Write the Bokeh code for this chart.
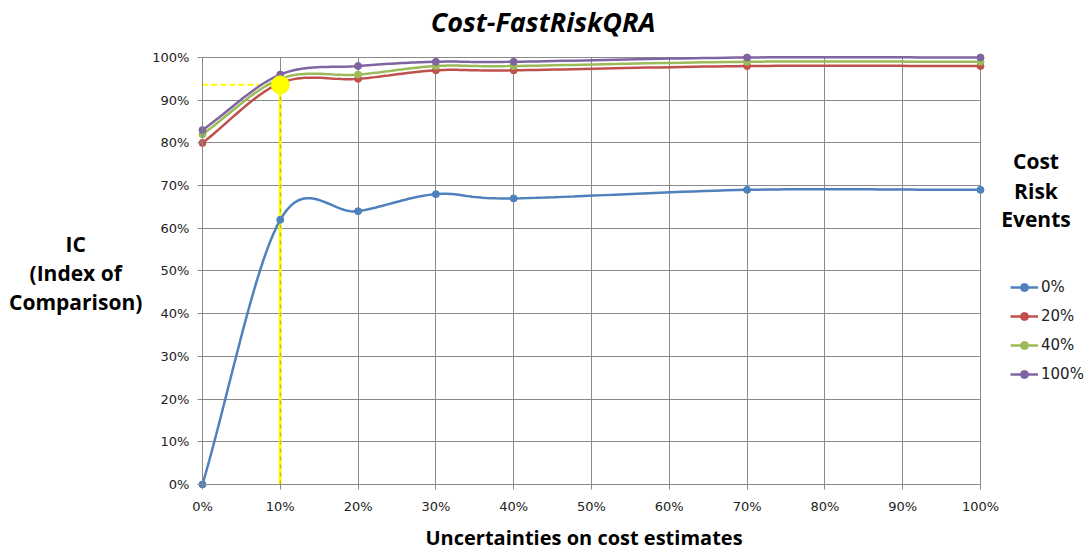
import numpy as np
from bokeh.plotting import figure
from bokeh.models import (Range1d, FixedTicker, PrintfTickFormatter, Label,
                          Legend, LegendItem)
from bokeh.embed import file_html
from bokeh.resources import INLINE

# Uncertainty on cost estimates (%) and Index of Comparison (%) per series
x_pct = [0, 10, 20, 30, 40, 70, 100]
ic_0 = [0, 62, 64, 68, 67, 69, 69]
ic_20 = [80, 94, 95, 97, 97, 98, 98]
ic_40 = [82, 95, 96, 98, 98, 99, 99]
ic_100 = [83, 96, 98, 99, 99, 100, 100]
series_names = ["0%", "20%", "40%", "100%"]
series_values = [ic_0, ic_20, ic_40, ic_100]
colors = ["#4F81BD", "#C0504D", "#9BBB59", "#8064A2"]
tick_values = list(range(0, 101, 10))

# highlighted reading
highlight_x = 10
highlight_ic = 93.6


def smooth(xs, ys, n=24):
    """Cubic Bezier smoothing through the points (Catmull-Rom tangents,
    chord tangents at both ends)."""
    P = np.column_stack([xs, ys]).astype(float)
    m = len(P)
    T = np.zeros_like(P)
    T[1:-1] = (P[2:] - P[:-2]) / 2.0
    T[0] = P[1] - P[0]
    T[-1] = P[-1] - P[-2]
    out = [P[0]]
    t = np.linspace(0, 1, n)[1:, None]
    for i in range(m - 1):
        p1, p2 = P[i], P[i + 1]
        c1 = p1 + T[i] / 3.0
        c2 = p2 - T[i + 1] / 3.0
        seg = ((1 - t) ** 3) * p1 + 3 * ((1 - t) ** 2) * t * c1 \
            + 3 * (1 - t) * (t ** 2) * c2 + (t ** 3) * p2
        out.extend(seg)
    out = np.array(out)
    return out[:, 0], out[:, 1]


# the plotting frame fills the whole canvas; the 0..100 box sits inside it
p = figure(width=1089, height=552, output_backend="svg", toolbar_location=None,
           x_range=Range1d(-25.96, 114.01), y_range=Range1d(-15.93, 113.35),
           min_border_left=0, min_border_right=0,
           min_border_top=0, min_border_bottom=0)
p.outline_line_color = None
p.background_fill_color = "white"
p.border_fill_color = "white"

grid_color = "#8A8A8A"
for ax in (p.xaxis[0], p.yaxis[0]):
    ax.ticker = FixedTicker(ticks=tick_values)
    ax.formatter = PrintfTickFormatter(format="%d%%")
    ax.fixed_location = 0
    ax.bounds = (0, 100)
    ax.axis_line_color = grid_color
    ax.major_tick_line_color = grid_color
    ax.major_tick_out = 5
    ax.major_tick_in = 0
    ax.minor_tick_line_color = None
    ax.major_label_text_font = "DejaVu Sans"
    ax.major_label_text_font_size = "13px"
    ax.major_label_text_color = "#222222"
p.xaxis.major_label_standoff = 10
p.yaxis.major_label_standoff = 8

for g in (p.xgrid[0], p.ygrid[0]):
    g.ticker = FixedTicker(ticks=tick_values)
    g.bounds = (0, 100)
    g.cross_bounds = (0, 100)
    g.grid_line_color = grid_color
    g.grid_line_width = 1

# yellow reading guides
p.line([0, highlight_x], [highlight_ic, highlight_ic], line_color="#FFFF00",
       line_width=2, line_dash="6 3")
p.line([highlight_x, highlight_x], [0, highlight_ic], line_color="#FFFF00",
       line_width=3)
p.line([highlight_x, highlight_x], [0, highlight_ic], line_color="#A0A040",
       line_width=1, line_dash="4 4")

items = []
for name, ys, c in zip(series_names, series_values, colors):
    sx, sy = smooth(x_pct, ys)
    r_line = p.line(sx, sy, line_color=c, line_width=2.5)
    r_pts = p.scatter(x_pct, ys, size=7, fill_color=c, line_color=c)
    items.append(LegendItem(label=name, renderers=[r_line, r_pts]))

p.scatter([highlight_x], [highlight_ic], size=18, fill_color="#FFFF00",
          line_color="#F2F200")

legend = Legend(items=items, location=(1010, 168), orientation="vertical",
                background_fill_alpha=0, border_line_color=None,
                padding=0, margin=0, spacing=9, glyph_width=28,
                glyph_height=20, label_height=20, label_standoff=3,
                label_text_font="DejaVu Sans", label_text_font_size="15px",
                label_text_color="#222222")
p.add_layout(legend)

font = "Open Sans"
p.add_layout(Label(x=43.77, y=108.4, text="Cost-FastRiskQRA", text_align="center",
                   text_baseline="alphabetic", text_font=font,
                   text_font_style="bold italic", text_font_size="27px",
                   text_color="#000000"))
p.add_layout(Label(x=49.04, y=-12.4, text="Uncertainties on cost estimates",
                   text_align="center", text_baseline="alphabetic", text_font=font,
                   text_font_style="bold", text_font_size="20px", text_color="#000000"))
for txt, yy in zip(["IC", "(Index of", "Comparison)"], [56.3, 49.6, 42.7]):
    p.add_layout(Label(x=-16.3, y=yy, text=txt, text_align="center",
                       text_baseline="alphabetic", text_font=font,
                       text_font_style="bold", text_font_size="21px",
                       text_color="#000000"))
for txt, yy in zip(["Cost", "Risk", "Events"], [75.87, 68.85, 62.06]):
    p.add_layout(Label(x=107.13, y=yy, text=txt, text_align="center",
                       text_baseline="alphabetic", text_font=font,
                       text_font_style="bold", text_font_size="21px",
                       text_color="#000000"))

open("out.html", "w").write(file_html(p, INLINE))
